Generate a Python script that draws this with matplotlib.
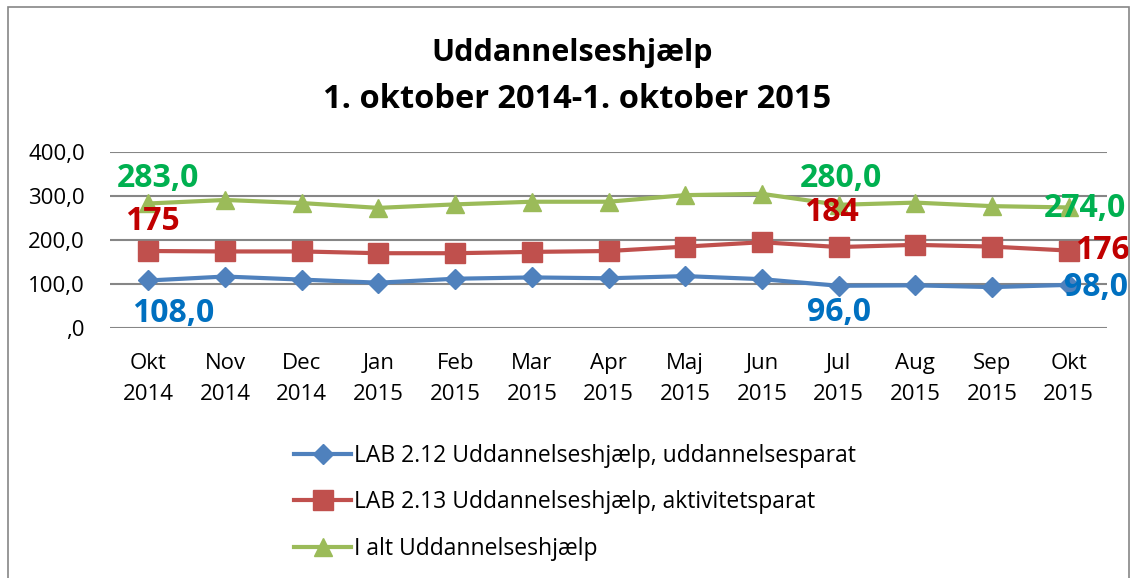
import matplotlib
matplotlib.use("Agg")
import matplotlib.pyplot as plt
from matplotlib.patches import Rectangle

# data
months = ["Okt\n2014", "Nov\n2014", "Dec\n2014", "Jan\n2015", "Feb\n2015", "Mar\n2015", "Apr\n2015",
          "Maj\n2015", "Jun\n2015", "Jul\n2015", "Aug\n2015", "Sep\n2015", "Okt\n2015"]
uddannelsesparat = [108, 117, 110, 103, 112, 115, 113, 118, 111, 96, 97, 93, 98]
aktivitetsparat = [175, 174, 174, 170, 170, 173, 175, 185, 195, 184, 189, 185, 176]
i_alt = [283, 291, 284, 273, 281, 287, 287, 302, 305, 280, 285, 277, 274]
series_names = ["LAB 2.12 Uddannelseshjælp, uddannelsesparat",
                "LAB 2.13 Uddannelseshjælp, aktivitetsparat",
                "I alt Uddannelseshjælp"]
y_ticks = [0, 100, 200, 300, 400]
y_tick_labels = [",0", "100,0", "200,0", "300,0", "400,0"]
labelled_idx = [0, 9, 12]

plt.rcParams["font.family"] = ["Open Sans", "DejaVu Sans"]

fig = plt.figure(figsize=(11.31, 5.78), dpi=100)
ax = fig.add_axes([0.0973, 0.4325, 0.8815, 0.3045])

x = list(range(len(months)))
line_col = ["#4F81BD", "#C0504D", "#9BBB59"]
label_col = ["#0070C0", "#C00000", "#00B050"]
markers = ["D", "s", "^"]
msizes = [10, 14, 13]
all_series = [uddannelsesparat, aktivitetsparat, i_alt]

for vals, name, c, m, ms in zip(all_series, series_names, line_col, markers, msizes):
    ax.plot(x, vals, color=c, lw=3, marker=m, markersize=ms, label=name, zorder=3)

# data label offsets (points) for Okt 2014, Jul 2015, Okt 2015
offsets = [
    [(18, -24), (0, -19), (20, -2)],   # blue
    [(3, 21), (-5, 25), (24, 0)],      # red
    [(7, 18), (2, 19), (12, -1)],      # green
]
fmts = [lambda v: f"{v:.1f}".replace(".", ","),
        lambda v: f"{v:.0f}",
        lambda v: f"{v:.1f}".replace(".", ",")]
for s, vals in enumerate(all_series):
    for k, i in enumerate(labelled_idx):
        ax.annotate(fmts[s](vals[i]), (x[i], vals[i]), xytext=offsets[s][k],
                    textcoords="offset points", ha="center", va="center",
                    fontsize=23, fontweight="bold", color=label_col[s], zorder=4,
                    annotation_clip=False)

ax.set_xlim(-0.5, len(months) - 0.5)
ax.set_ylim(0, 400)
ax.set_yticks(y_ticks)
ax.set_yticklabels(y_tick_labels)
ax.set_xticks(x)
ax.set_xticklabels(months, linespacing=1.62)
ax.tick_params(axis="y", length=0, pad=18, labelsize=16)
ax.tick_params(axis="x", length=0, pad=18, labelsize=16)
for sp in ax.spines.values():
    sp.set_visible(False)
ax.grid(axis="y", color="#868686", lw=1.5)
ax.set_axisbelow(True)

fig.text(0.506, 0.908, "Uddannelseshjælp", ha="center", va="center", fontsize=22, fontweight="bold")
fig.text(0.510, 0.828, "1. oktober 2014-1. oktober 2015", ha="center", va="center",
         fontsize=23.5, fontweight="bold")

leg = ax.legend(loc="upper left", bbox_to_anchor=(0.260, 0.232), bbox_transform=fig.transFigure,
                frameon=False, fontsize=16.5, handlelength=2.5, handletextpad=0.1,
                labelspacing=0.98, numpoints=1, borderpad=0, borderaxespad=0)

fig.add_artist(Rectangle((0.0071, -0.05), 0.9911, 1.0379, transform=fig.transFigure,
                         fill=False, edgecolor="#868686", lw=1.2))

fig.savefig("out.png", dpi=100)
